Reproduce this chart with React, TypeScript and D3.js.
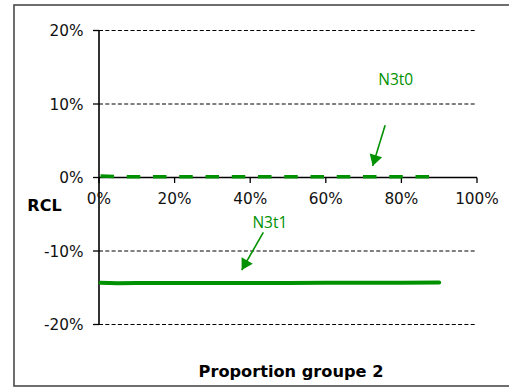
import React from "react";
import * as d3 from "d3";

const xValues = [0.004, 0.05, 0.1, 0.2, 0.3, 0.4, 0.5, 0.6, 0.7, 0.8, 0.9];
const n3t0 = [0.002, 0.001, 0.001, 0.001, 0.001, 0.001, 0.001, 0.001, 0.001, 0.001, 0.001];
const n3t1 = [-0.1432, -0.1438, -0.1437, -0.1436, -0.1435, -0.1434, -0.1434, -0.1433, -0.1432, -0.1431, -0.143];
const xTicks = [0, 0.2, 0.4, 0.6, 0.8, 1.0];
const yTicks = [-0.2, -0.1, 0, 0.1, 0.2];
const annotations = [
  { label: "N3t0", lx: 0.785, ly: 0.1254, from: [0.757, 0.071], to: [0.724, 0.0158] },
  { label: "N3t1", lx: 0.452, ly: -0.0682, from: [0.4347, -0.0747], to: [0.3775, -0.126] },
];

const GREEN = "#009100";
const FONT = "'DejaVu Sans', Verdana, sans-serif";

export default function App() {
  const x = d3.scaleLinear().domain([0, 1]).range([99, 477]);
  const y = d3.scaleLinear().domain([-0.2, 0.2]).range([324.5, 30.5]);
  const pct = (v: number) => d3.format(".0%")(v).replace("\u2212", "-");
  const line = d3
    .line<number>()
    .x((_, i) => x(xValues[i]))
    .y((d) => y(d));

  const arrowHead = (fx: number, fy: number, tx: number, ty: number) => {
    const dx = tx - fx, dy = ty - fy;
    const len = Math.hypot(dx, dy);
    const ux = dx / len, uy = dy / len;
    const hl = 11, hw = 6.5;
    const bx = tx - ux * hl, by = ty - uy * hl;
    return `${tx},${ty} ${bx - uy * hw},${by + ux * hw} ${bx + uy * hw},${by - ux * hw}`;
  };

  return (
    <svg width={509} height={387} style={{ position: "absolute", left: 0, top: 0 }}>
      <rect x={0} y={0} width={509} height={387} fill="white" />
      <rect x={14} y={5} width={500} height={381} fill="none" stroke="#4a4a4a" strokeWidth={1.6} />
      {yTicks.filter((t) => t !== 0).map((t) => (
        <line key={t} x1={x(0)} x2={x(1)} y1={y(t)} y2={y(t)} stroke="#000" strokeWidth={1} strokeDasharray="4,2.3" />
      ))}
      <line x1={x(0)} x2={x(0)} y1={y(0.2)} y2={y(-0.2)} stroke="#000" strokeWidth={1.6} />
      {yTicks.map((t) => (
        <g key={t}>
          <line x1={x(0) - 6} x2={x(0)} y1={y(t)} y2={y(t)} stroke="#000" strokeWidth={1.3} />
          <text x={83.5} y={y(t) + 5.8} textAnchor="end" fontFamily={FONT} fontSize={15.3} fill="#111">
            {pct(t)}
          </text>
        </g>
      ))}
      <line x1={x(0)} x2={x(1)} y1={y(0)} y2={y(0)} stroke="#000" strokeWidth={1.6} />
      {xTicks.map((t) => (
        <g key={t}>
          <line x1={x(t)} x2={x(t)} y1={y(0)} y2={y(0) + 5.5} stroke="#000" strokeWidth={1.3} />
          <text x={x(t)} y={203.5} textAnchor="middle" fontFamily={FONT} fontSize={15.3} fill="#111">
            {pct(t)}
          </text>
        </g>
      ))}
      <path d={line(n3t1) || ""} fill="none" stroke={GREEN} strokeWidth={4} strokeLinecap="round" />
      <path d={line(n3t0) || ""} fill="none" stroke={GREEN} strokeWidth={3.5} strokeDasharray="13.5,12.75" />
      {annotations.map((a) => {
        const fx = x(a.from[0]), fy = y(a.from[1]), tx = x(a.to[0]), ty = y(a.to[1]);
        return (
          <g key={a.label}>
            <line x1={fx} y1={fy} x2={tx} y2={ty} stroke={GREEN} strokeWidth={1.6} />
            <polygon points={arrowHead(fx, fy, tx, ty)} fill={GREEN} />
            <text x={x(a.lx)} y={y(a.ly)} textAnchor="middle" fontFamily="'Open Sans', sans-serif" fontSize={15.5} fill={GREEN}>
              {a.label}
            </text>
          </g>
        );
      })}
      <text x={44.5} y={210.5} textAnchor="middle" fontFamily={FONT} fontSize={16} fontWeight="bold" fill="#000">
        RCL
      </text>
      <text x={291} y={377} textAnchor="middle" fontFamily={FONT} fontSize={16.2} fontWeight="bold" fill="#000">
        Proportion groupe 2
      </text>
    </svg>
  );
}
